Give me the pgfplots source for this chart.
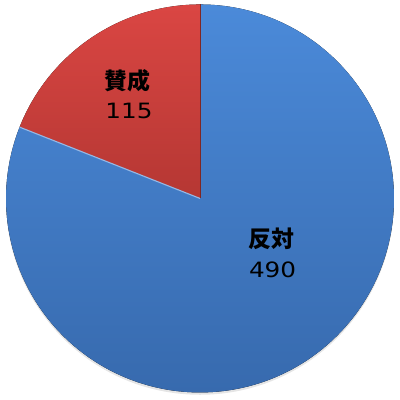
\documentclass[border=0pt]{standalone}
\usepackage{pgfplots}
\pgfplotsset{compat=1.18}
\usepackage{pgfplotstable}
\usepackage{fontspec}
\setmainfont{Liberation Sans}
\newfontfamily\cjk{Noto Sans CJK JP}
\newfontfamily\numfont[FakeStretch=1.17]{DejaVu Sans}

\definecolor{pieblueT}{HTML}{4B8AD9}
\definecolor{pieblueB}{HTML}{376AAE}
\definecolor{pieredT}{HTML}{DA4643}
\definecolor{pieredB}{HTML}{B53733}

% votes
\pgfplotstableread{
label value
yes 115
no  490
}\votes

\begin{document}
\begin{tikzpicture}
\pgfplotstablegetelem{0}{value}\of\votes \let\yes\pgfplotsretval
\pgfplotstablegetelem{1}{value}\of\votes \let\no\pgfplotsretval
\pgfmathsetmacro\yesangle{\yes/(\yes+\no)*360}
\pgfmathsetmacro\edgex{cos(90+\yesangle)}
\pgfmathsetmacro\edgey{sin(90+\yesangle)}
\begin{axis}[
    name=ax,
    width=10cm, height=10cm,
    scale only axis,
    axis equal image,
    hide axis,
    xmin=-1.031, xmax=1.031,
    ymin=-1.039, ymax=1.023,
    clip=false,
]
% shadow
\fill[black!10] (axis cs:0,-0.012) circle[radius=1];
% 反対 slice (blue)
\fill[top color=pieblueT, bottom color=pieblueB]
    (axis cs:0,0) -- (axis cs:0,1)
    arc[start angle=90, delta angle={\yesangle-360}, radius=1] -- cycle;
% 賛成 slice (red)
\fill[top color=pieredT, bottom color=pieredB]
    (axis cs:0,0) -- (axis cs:0,1)
    arc[start angle=90, delta angle=\yesangle, radius=1] -- cycle;
% slice edges
\draw[pieblueT!60!white, line width=0.8pt]
    (axis cs:0,0) -- (axis cs:\edgex,\edgey);
\draw[pieredB!70!black, line width=0.6pt]
    (axis cs:0,0) -- (axis cs:0,1);

% labels
\tikzset{cjklab/.style={inner sep=0pt, font=\cjk\bfseries\fontsize{16.3}{18}\selectfont},
         numlab/.style={inner sep=0pt, font=\numfont\fontsize{15}{18}\selectfont}}
\node[cjklab] at (axis cs:-0.376,0.606) {賛成};
\node[numlab] at (axis cs:-0.366,0.451) {\yes};
\node[cjklab] at (axis cs:0.369,-0.209) {反対};
\node[numlab] at (axis cs:0.374,-0.366) {\no};
\end{axis}
\pgfresetboundingbox
\path (ax.south west) rectangle (ax.north east);
\end{tikzpicture}
\end{document}
